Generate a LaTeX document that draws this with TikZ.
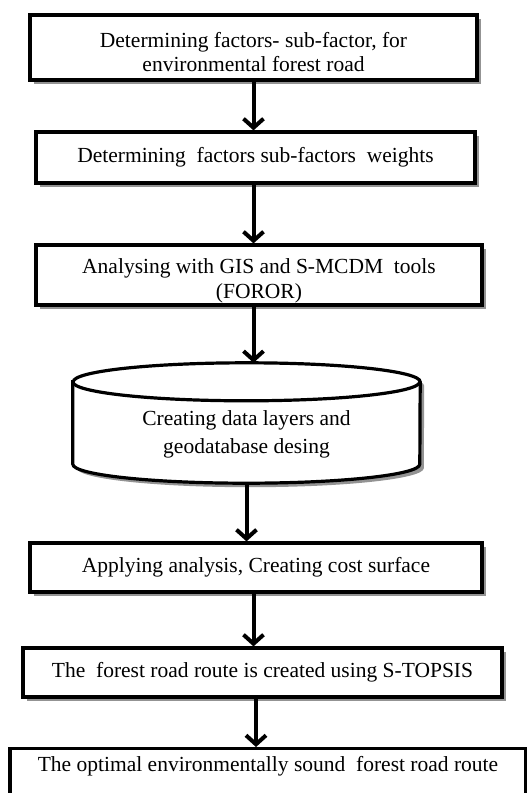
\documentclass[tikz,border=0pt]{standalone}
\usepackage{fontspec}
\setmainfont{Liberation Serif}
\usetikzlibrary{arrows.meta,positioning,shadows,backgrounds,calc}
\tikzset{
  stepbox/.style={
    rectangle, draw=black, line width=3.2pt, fill=white,
    inner sep=0pt, align=center,
    font=\fontsize{21.5}{24}\selectfont,
    drop shadow={shadow xshift=4pt, shadow yshift=-4pt, fill=black!60, opacity=0.7}
  },
  flowarrow/.style={-{Straight Barb[length=9pt,width=20pt]}, line width=4pt}
}

\begin{document}
\begin{tikzpicture}[x=1pt, y=-1pt,
  dbtext/.style={inner sep=0pt, align=center, font=\fontsize{21.5}{28}\selectfont, minimum width=347pt, minimum height=120pt},
  dbline/.style={draw=black, line width=3.2pt}
]
\useasboundingbox (0,0) rectangle (527,793);
\clip (0,0) rectangle (527,793);

% Process boxes
\node[stepbox, minimum width=447pt, minimum height=65pt, text height=48pt] (factors) at (253.5,47.5) {Determining factors- sub-factor, for\\environmental forest road};
\node[stepbox, minimum width=439pt, minimum height=51pt] (weights) at (255.5,157.5) {Determining~ factors sub-factors~ weights};
\node[stepbox, minimum width=446pt, minimum height=60pt, font=\fontsize{21.5}{25}\selectfont, text height=51pt] (gis) at (259,275) {Analysing with GIS and S-MCDM~ tools\\(FOROR)};

% Geodatabase (cylinder drawn round the text node)
\node[dbtext, text height=66pt] (layers) at (246.5,423) {Creating data layers and\\geodatabase desing};
\begin{scope}[on background layer]
\fill[white] (0,0) rectangle (527,793);
\draw[dbline, fill=white, drop shadow={shadow xshift=4pt, shadow yshift=-4pt, fill=black!60, opacity=0.7}]
  ([yshift=-19pt]layers.north west) -- ([yshift=19pt]layers.south west)
  arc[start angle=180, end angle=360, x radius=173.5pt, y radius=19pt]
  -- ([yshift=-19pt]layers.north east)
  arc[start angle=0, end angle=180, x radius=173.5pt, y radius=19pt] -- cycle;
\draw[dbline] ([yshift=-19pt]layers.north west) arc[start angle=180, end angle=360, x radius=173.5pt, y radius=19pt];
\end{scope}

\node[stepbox, minimum width=452pt, minimum height=49pt] (apply) at (256,567.5) {Applying analysis, Creating cost surface};
\node[stepbox, minimum width=479pt, minimum height=49pt] (route) at (262.5,672.5) {The~ forest road route is created using S-TOPSIS};
\node[stepbox, minimum width=516pt, anchor=north, inner ysep=2pt, text height=21pt, text depth=30pt] (optimal) at (268,747) {The optimal environmentally sound~ forest road route};

% Arrows
\draw[flowarrow] (factors.south) -- (factors.south |- weights.north);
\draw[flowarrow] (weights.south -| factors.south) -- (factors.south |- gis.north);
\draw[flowarrow] (gis.south -| factors.south) -- (factors.south |- layers.north);
\draw[flowarrow] (layers.south) -- (layers.south |- apply.north);
\draw[flowarrow] (apply.south -| factors.south) -- (factors.south |- route.north);
\draw[flowarrow] (route.south -| apply.south) -- (apply.south |- optimal.north);
\end{tikzpicture}
\end{document}
